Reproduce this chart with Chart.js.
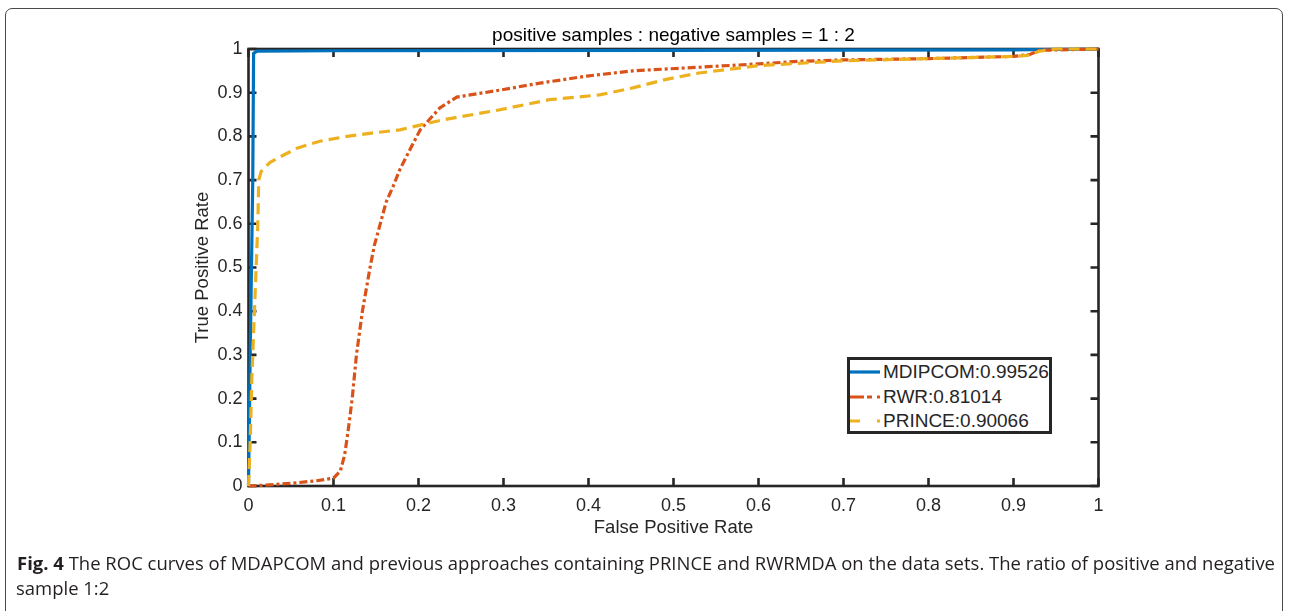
<!DOCTYPE html>
<html>
<head>
<meta charset="utf-8">
<script src="https://cdn.jsdelivr.net/npm/chart.js@4.4.0/dist/chart.umd.min.js"></script>
<style>
	html, body { margin: 0; padding: 0; background: #fff; }
	body { width: 1290px; height: 611px; overflow: hidden; position: relative; font-family: "Liberation Sans", Arial, sans-serif; }
	.marco { position: absolute; left: 5px; top: 8px; width: 1278px; height: 700px; border: 1.5px solid #4a4a4a; border-radius: 7px; box-sizing: border-box; }
	#grafico { position: absolute; left: 0; top: 0; }
	.leyenda { position: absolute; left: 847px; top: 357px; width: 205px; height: 77px; border: 3px solid #262626; box-sizing: border-box; background: #fff; }
	.fila { height: 24.5px; display: flex; align-items: center; font-size: 19px; color: #262626; white-space: nowrap; }
	.fila svg { width: 30px; height: 10px; margin-right: 3px; flex: none; }
	.pie { position: absolute; left: 17px; top: 551px; font-family: "Open Sans", sans-serif; font-size: 18px; line-height: 24.5px; color: #231f20; white-space: nowrap; transform-origin: 0 0; }
	.pie .l2 { margin-left: -1px; }
</style>
</head>
<body>
<div class="marco"></div>
<canvas id="grafico" width="1290" height="611"></canvas>
<div class="leyenda" id="leyenda"></div>
<div class="pie" id="pie"><span id="linea1"><b>Fig. 4</b> The ROC curves of MDAPCOM and previous approaches containing PRINCE and RWRMDA on the data sets. The ratio of positive and negative</span><br><span class="l2">sample 1:2</span></div>

<script>
// datos
const tituloGrafico = 'positive samples : negative samples = 1 : 2';
const etiquetaX = 'False Positive Rate';
const etiquetaY = 'True Positive Rate';
const tickEtiquetas = ['0', '0.1', '0.2', '0.3', '0.4', '0.5', '0.6', '0.7', '0.8', '0.9', '1'];
const nombres = ['MDIPCOM:0.99526', 'RWR:0.81014', 'PRINCE:0.90066'];

const mdipcomX = [0, 0.002, 0.005, 0.006, 0.01, 0.1, 0.5, 0.9, 1];
const mdipcomY = [0, 0.3, 0.7, 0.99, 0.995, 0.996, 0.997, 0.998, 1];

const rwrX = [0, 0.02, 0.05, 0.08, 0.1, 0.108, 0.113, 0.117, 0.122, 0.127, 0.134, 0.143, 0.148, 0.155, 0.162, 0.17, 0.178, 0.19, 0.202, 0.225, 0.245, 0.296, 0.343, 0.398, 0.452, 0.527, 0.6, 0.65, 0.7, 0.8, 0.9, 0.92, 0.93, 1];
const rwrY = [0, 0.002, 0.006, 0.012, 0.018, 0.034, 0.07, 0.123, 0.2, 0.3, 0.4, 0.5, 0.55, 0.6, 0.65, 0.685, 0.724, 0.77, 0.815, 0.865, 0.89, 0.906, 0.922, 0.938, 0.95, 0.958, 0.966, 0.972, 0.975, 0.978, 0.983, 0.988, 0.997, 1];

const princeX = [0, 0.002, 0.004, 0.007, 0.009, 0.011, 0.012, 0.015, 0.025, 0.037, 0.057, 0.084, 0.116, 0.147, 0.178, 0.229, 0.296, 0.354, 0.413, 0.452, 0.49, 0.53, 0.6, 0.7, 0.8, 0.9, 0.92, 0.93, 0.95, 1];
const princeY = [0, 0.1, 0.25, 0.4, 0.5, 0.6, 0.7, 0.72, 0.74, 0.753, 0.773, 0.789, 0.8, 0.808, 0.815, 0.838, 0.861, 0.884, 0.895, 0.911, 0.93, 0.945, 0.962, 0.973, 0.978, 0.983, 0.986, 0.995, 1, 1];

const colores = ['#0072BD', '#D95319', '#EDB120'];
const guiones = [[], [8, 3, 3, 3], [11, 6]];
const guionesLeyenda = ['', '14 3 5 5 3', '10 17 3'];

function puntos(xs, ys) {
	return xs.map((x, i) => ({ x: x, y: ys[i] }));
}

// caja estilo matlab con ticks hacia dentro
const cajaMatlab = {
	id: 'cajaMatlab',
	beforeDatasetsDraw(chart) {
		const ctx = chart.ctx;
		const a = chart.chartArea;
		const x = chart.scales.x;
		const y = chart.scales.y;
		const largo = 8;
		ctx.save();
		ctx.strokeStyle = '#262626';
		ctx.lineWidth = 2.6;
		ctx.strokeRect(a.left, a.top, a.right - a.left, a.bottom - a.top);
		ctx.beginPath();
		x.ticks.forEach(t => {
			const px = x.getPixelForValue(t.value);
			ctx.moveTo(px, a.bottom); ctx.lineTo(px, a.bottom - largo);
			ctx.moveTo(px, a.top); ctx.lineTo(px, a.top + largo);
		});
		y.ticks.forEach(t => {
			const py = y.getPixelForValue(t.value);
			ctx.moveTo(a.left, py); ctx.lineTo(a.left + largo, py);
			ctx.moveTo(a.right, py); ctx.lineTo(a.right - largo, py);
		});
		ctx.stroke();
		ctx.restore();
	}
};

Chart.defaults.font.family = '"Liberation Sans", Arial, sans-serif';
Chart.defaults.color = '#262626';

const series = [puntos(mdipcomX, mdipcomY), puntos(rwrX, rwrY), puntos(princeX, princeY)];

const datasets = series.map((d, i) => ({
	label: nombres[i],
	data: d,
	borderColor: colores[i],
	backgroundColor: colores[i],
	borderWidth: 3.2,
	borderDash: guiones[i],
	pointRadius: 0,
	tension: 0,
	fill: false,
	clip: 5,
	order: 3 - i
}));

const grafico = new Chart(document.getElementById('grafico'), {
	type: 'line',
	data: { datasets: datasets },
	options: {
		responsive: false,
		animation: false,
		layout: { padding: { left: 188.5, right: 191.5, top: 24, bottom: 72 } },
		plugins: {
			legend: { display: false },
			tooltip: { enabled: false },
			title: {
				display: true,
				text: tituloGrafico,
				fullSize: false,
				color: '#000',
				font: { size: 19, weight: 'normal' },
				padding: { top: 0, bottom: 2.2 }
			}
		},
		scales: {
			x: {
				type: 'linear',
				min: 0,
				max: 1,
				ticks: {
					stepSize: 0.1,
					autoSkip: false,
					maxRotation: 0,
					padding: 9,
					font: { size: 18 },
					callback: v => tickEtiquetas[Math.round(v * 10)]
				},
				grid: { display: false, drawTicks: false },
				border: { display: false },
				title: { display: true, text: etiquetaX, font: { size: 18.5 }, padding: 0 },
				afterFit(s) { s.height = 53; }
			},
			y: {
				type: 'linear',
				min: 0,
				max: 1,
				ticks: {
					stepSize: 0.1,
					autoSkip: false,
					padding: 6,
					font: { size: 18 },
					callback: v => tickEtiquetas[Math.round(v * 10)]
				},
				grid: { display: false, drawTicks: false },
				border: { display: false },
				title: { display: true, text: etiquetaY, font: { size: 18.5 }, padding: { top: 3, bottom: 0 } },
				afterFit(s) { s.width = 60; }
			}
		}
	},
	plugins: [cajaMatlab]
});

// leyenda en html
let salida = '';
nombres.forEach((nombre, i) => {
	salida += '<div class="fila"><svg viewBox="0 0 30 10"><line x1="0" y1="5" x2="30" y2="5" stroke="' + colores[i] + '" stroke-width="3.2" stroke-dasharray="' + guionesLeyenda[i] + '"/></svg>' + nombre + '</div>';
});
document.getElementById('leyenda').innerHTML = salida;

// ajustar el ancho del pie de figura
const pie = document.getElementById('pie');
const ancho = document.getElementById('linea1').getBoundingClientRect().width;
pie.style.transform = 'scaleX(' + (1258 / ancho) + ')';
</script>
</body>
</html>
